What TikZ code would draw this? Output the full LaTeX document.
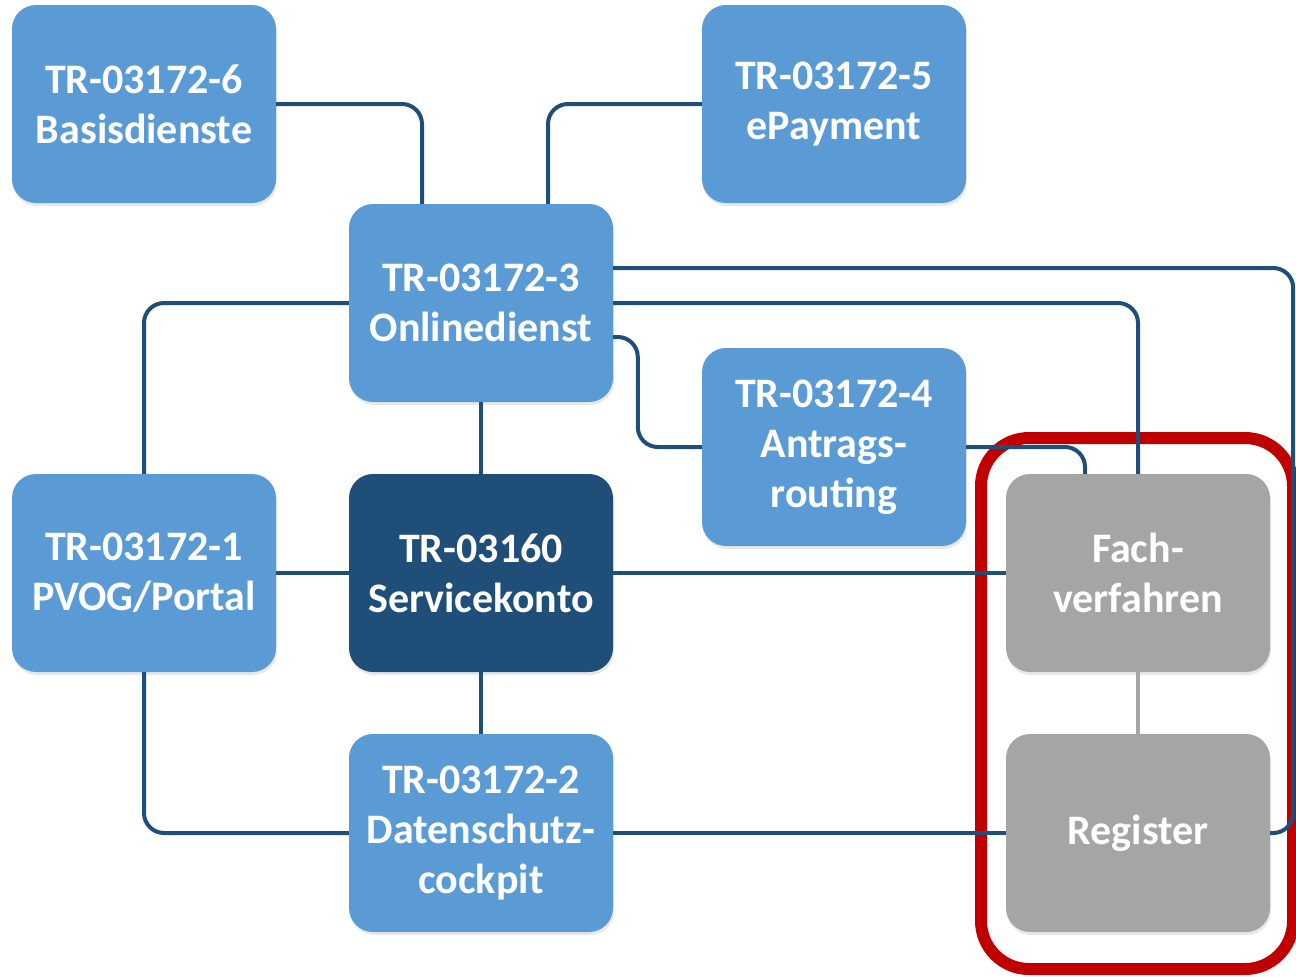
\documentclass[tikz,border=0pt]{standalone}
\usepackage{fontspec}
\setmainfont{Carlito}
\usepackage{tikz}
\usetikzlibrary{shadows}

\definecolor{boxblue}{HTML}{5B9BD5}
\definecolor{darkblue}{HTML}{1F4E79}
\definecolor{boxgray}{HTML}{A5A5A5}
\definecolor{markred}{HTML}{C00000}

\tikzset{
  trbox/.style={rounded corners=24pt, fill=boxblue, text=white, font=\bfseries\fontsize{42}{50}\selectfont,
    minimum width=264pt, minimum height=198pt, align=center, inner sep=0pt,
    drop shadow={opacity=0.18, shadow xshift=1pt, shadow yshift=-3pt}},
  darkbox/.style={trbox, fill=darkblue},
  graybox/.style={trbox, fill=boxgray},
  link/.style={draw=darkblue, line width=4pt, rounded corners=20pt},
}

\begin{document}
\begin{tikzpicture}[x=1pt,y=-1pt]
        \useasboundingbox (0,0) rectangle (1296,977);

        % Red frame around the external systems
        \draw[markred, line width=12pt, rounded corners=48pt] (981,438) rectangle (1293,969);

        % Draw the boxes
        \node[trbox] (basis) at (144,104) {TR-03172-6\\Basisdienste};
        \node[trbox] (epay) at (834,104) {TR-03172-5\\ePayment};
        \node[trbox] (online) at (481,303) {TR-03172-3\\Onlinedienst};
        \node[trbox] (antrag) at (834,447) {TR-03172-4\\Antrags-\\routing};
        \node[trbox] (pvog) at (144,573) {TR-03172-1\\PVOG/Portal};
        \node[darkbox] (service) at (481,573) {TR-03160\\Servicekonto};
        \node[graybox] (fach) at (1138,573) {Fach-\\verfahren};
        \node[trbox] (dsc) at (481,833) {TR-03172-2\\Datenschutz-\\cockpit};
        \node[graybox] (register) at (1138,833) {Register};

        % Connections of the Onlinedienst
        \draw[link] (basis.east) -| ([xshift=-59pt]online.north);
        \draw[link] (epay.west) -| ([xshift=67pt]online.north);
        \draw[link] ([yshift=35pt]online.east) -| ([xshift=23pt]register.east) -- (register.east);
        \draw[link] (online.east) -| (fach.north);
        \draw[link] ([yshift=-34pt]online.east) -| ([xshift=-64pt]antrag.west) -- (antrag.west);
        \draw[link] (antrag.east) -| ([xshift=-53pt]fach.north);
        \draw[link] (online.west) -| (pvog.north);
        \draw[link] (online) -- (service);

        % Connections of the Servicekonto and the cockpit
        \draw[link] (pvog) -- (service);
        \draw[link] (service) -- (fach);
        \draw[link] (service) -- (dsc);
        \draw[link] (pvog.south) |- (dsc.west);
        \draw[link] (dsc) -- (register);

        % Fachverfahren to Register
        \draw[boxgray, line width=4pt] (fach) -- (register);
    \end{tikzpicture}
\end{document}
